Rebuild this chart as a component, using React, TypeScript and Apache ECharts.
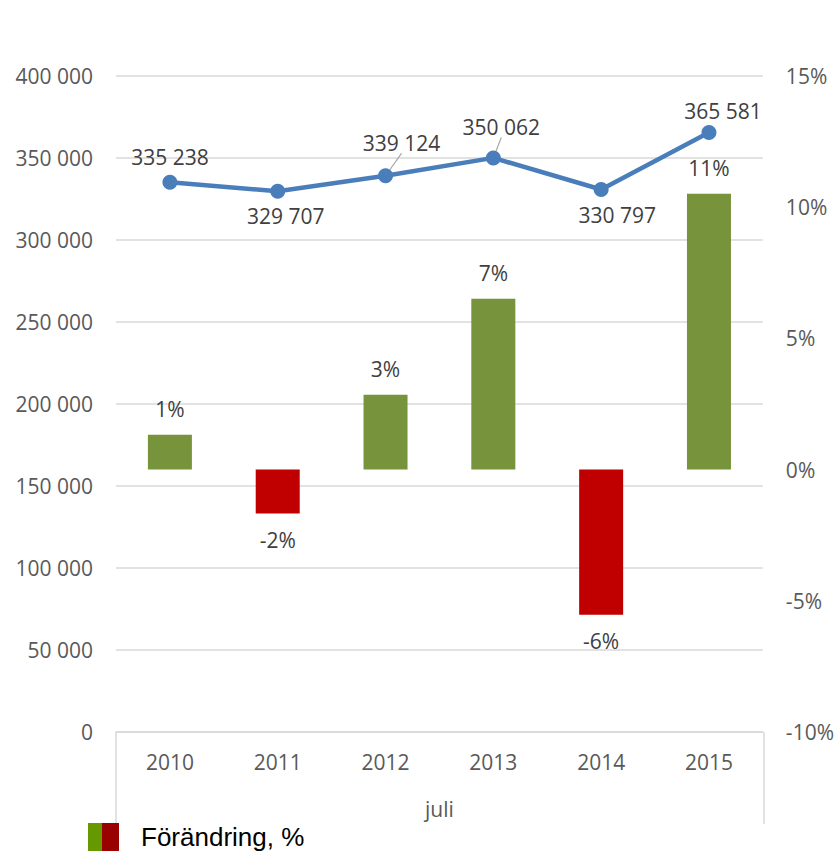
import React, { useEffect, useRef } from "react";
import * as echarts from "echarts";

const years = ["2010", "2011", "2012", "2013", "2014", "2015"];
const totals = [335238, 329707, 339124, 350062, 330797, 365581];
const changePct = [1.33, -1.67, 2.85, 6.51, -5.53, 10.51];
const axisName = "juli";
const legendName = "Förändring, %";

const fmt = (v: number) =>
  String(Math.round(v)).replace(/\B(?=(\d{3})+(?!\d))/g, " ");

const FONT = "'Open Sans', sans-serif";
const GREEN = "#77933C";
const RED = "#C00000";
const BLUE = "#4A7EBB";
const GRID = "#D9D9D9";

// label placement styles per point (style, not data)
const lineLabelStyle = [
  { position: "top", distance: 7, dx: 0, guide: false },
  { position: "bottom", distance: 7, dx: 8, guide: false },
  { position: "top", distance: 15, dx: 16, guide: true },
  { position: "top", distance: 13, dx: 8, guide: true },
  { position: "bottom", distance: 8, dx: 16, guide: false },
  { position: "top", distance: 3, dx: 14, guide: false },
];

export default function App() {
  const ref = useRef<HTMLDivElement>(null);
  useEffect(() => {
    if (!ref.current) return;
    const chart = echarts.init(ref.current, null, { renderer: "svg" });
    const gridLeft = 116;
    const gridRight = 764;
    const gridTop = 76;
    const gridBottom = 732;
    chart.setOption({
      animation: false,
      backgroundColor: "#fff",
      grid: {
        left: gridLeft,
        top: gridTop,
        width: gridRight - gridLeft,
        height: gridBottom - gridTop,
      },
      xAxis: {
        type: "category",
        data: years,
        axisLine: { show: true, lineStyle: { color: GRID, width: 1.5 } },
        axisTick: { show: false },
        axisLabel: { color: "#595959", fontFamily: FONT, fontSize: 21, margin: 19 },
        name: axisName,
        nameLocation: "middle",
        nameGap: 66,
        nameTextStyle: { color: "#595959", fontFamily: FONT, fontSize: 21 },
      },
      yAxis: [
        {
          type: "value",
          min: 0,
          max: 400000,
          interval: 50000,
          axisLine: { show: false },
          axisTick: { show: false },
          splitLine: { lineStyle: { color: GRID, width: 1.5 } },
          axisLabel: {
            color: "#595959",
            fontFamily: FONT,
            fontSize: 21,
            margin: 23,
            formatter: (v: number) => fmt(v),
          },
        },
        {
          type: "value",
          min: -10,
          max: 15,
          interval: 5,
          axisLine: { show: false },
          axisTick: { show: false },
          splitLine: { show: false },
          axisLabel: {
            color: "#595959",
            fontFamily: FONT,
            fontSize: 21,
            margin: 23,
            formatter: (v: number) => `${v}%`,
          },
        },
      ],
      series: [
        {
          name: legendName,
          type: "bar",
          yAxisIndex: 1,
          barWidth: 44,
          z: 2,
          data: changePct.map((v) => ({
            value: v,
            itemStyle: { color: v >= 0 ? GREEN : RED },
            label: {
              show: true,
              position: v >= 0 ? "top" : "bottom",
              distance: v >= 0 ? 15 : 16,
              color: "#404040",
              fontFamily: FONT,
              fontSize: 21,
              formatter: () => `${Math.round(v)}%`,
            },
          })),
        },
        {
          name: "Total",
          type: "line",
          yAxisIndex: 0,
          z: 5,
          symbol: "circle",
          symbolSize: 15,
          lineStyle: { color: BLUE, width: 4.5 },
          itemStyle: { color: BLUE },
          data: totals.map((v, i) => ({
            value: v,
            label: {
              show: true,
              position: lineLabelStyle[i].position,
              distance: lineLabelStyle[i].distance,
              color: "#404040",
              fontFamily: FONT,
              fontSize: 21,
              formatter: () => fmt(v),
            },
            labelLine: {
              show: lineLabelStyle[i].guide,
              lineStyle: { color: "#A6A6A6", width: 1.2 },
            },
          })),
          labelLayout: (p: any) => ({ dx: lineLabelStyle[p.dataIndex].dx }),
        },
      ],
      graphic: [
        {
          type: "line",
          shape: { x1: gridLeft, y1: gridBottom, x2: gridLeft, y2: 824 },
          style: { stroke: GRID, lineWidth: 1.5 },
        },
        {
          type: "line",
          shape: { x1: gridRight, y1: gridBottom, x2: gridRight, y2: 824 },
          style: { stroke: GRID, lineWidth: 1.5 },
        },
        {
          type: "rect",
          shape: { x: 88, y: 823, width: 14, height: 30 },
          style: { fill: "#669900" },
        },
        {
          type: "rect",
          shape: { x: 102, y: 823, width: 17, height: 30 },
          style: { fill: "#990000" },
        },
        {
          type: "text",
          style: {
            x: 141,
            y: 837,
            text: legendName,
            fill: "#000",
            font: "26px 'Liberation Sans', Arial, sans-serif",
            verticalAlign: "middle",
          },
        },
      ],
    });
    return () => chart.dispose();
  }, []);
  return (
    <div
      ref={ref}
      style={{ position: "fixed", left: 0, top: 0, width: 837, height: 851 }}
    />
  );
}
